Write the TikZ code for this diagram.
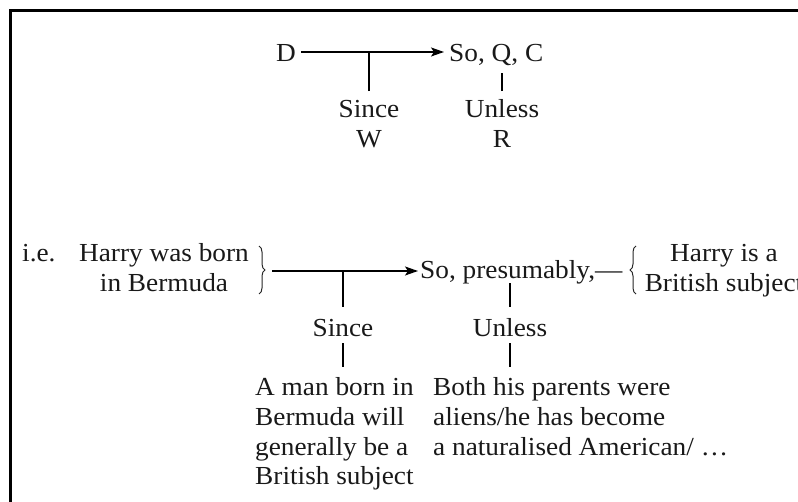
\documentclass[tikz,border=0pt]{standalone}
\usepackage{fontspec}
\setmainfont{Liberation Serif}[FakeStretch=1.05]
\usetikzlibrary{arrows.meta,decorations.pathreplacing}
\newcommand{\mlines}[2][c]{\begin{tabular}[t]{@{}#1@{}}#2\end{tabular}}
\begin{document}
\begin{tikzpicture}[x=1pt,y=1pt,
  txt/.style={font=\fontsize{26}{29.5}\selectfont, text=black!90},
  lbl/.style={txt, inner xsep=5pt, inner ysep=0pt, text height=20pt, text depth=0pt},
  ml/.style={txt, inner xsep=0pt, inner ysep=6pt},
  conn/.style={line width=1.5pt, draw=black},
  arr/.style={conn, -{Stealth[length=13pt,width=9pt,inset=3pt]}},
  brc/.style={line width=1pt, draw=black!85, decorate, decoration={brace, amplitude=6pt, aspect=0.5}},
  frame/.style={line width=3pt}]
\useasboundingbox (0,0) rectangle (798,-502);
\clip (0,0) rectangle (798,-502);
\draw[frame] (10,-530) -- (10,-11) -- (830,-11);

% top diagram
\node[lbl, anchor=base] (D) at (286,-62) {D};
\node[lbl, anchor=base west, inner ysep=11pt] (SQC) at (444,-62) {So, Q, C};
\node[ml, anchor=base] (S1) at (369,-118) {\mlines{Since\\W}};
\node[ml, anchor=base] (U1) at (502,-118) {\mlines{Unless\\R}};
\draw[arr] (D.east) -- (SQC.west);
\draw[conn] (S1.north) -- (S1.north |- D.east);
\draw[conn] (U1.north) -- (U1.north |- SQC.south);

% bottom diagram
\node[txt, anchor=base west, inner sep=0pt] (ie) at (22,-262) {i.e.};
\node[ml, anchor=base] (HB) at (164,-262) {\mlines{Harry was born\\in Bermuda}};
\draw[brc] (259,-246) -- (259,-294);
\coordinate (lbt) at (272,-271);
\node[lbl, anchor=base west, inner xsep=2pt, inner ysep=4pt, text height=16pt] (SP) at (418,-279) {So, presumably,—};
\draw[arr] (lbt) -- (SP.west);
\draw[brc] (636,-294) -- (636,-246);
\node[ml, anchor=base] (HS) at (724,-262) {\mlines{Harry is a\\British subject}};
\node[lbl, anchor=base, text height=24pt, inner ysep=6pt] (S2) at (343,-337) {Since};
\node[lbl, anchor=base, text height=24pt, inner ysep=6pt] (U2) at (510,-337) {Unless};
\draw[conn] (S2.north) -- (S2.north |- SP.west);
\draw[conn] (U2.north) -- (U2.north |- SP.south);
\node[ml, anchor=base west, inner ysep=8pt] (P1) at (255,-396) {\mlines[l]{A man born in\\Bermuda will\\generally be a\\British subject}};
\node[ml, anchor=base west, inner ysep=8pt] (P2) at (433,-396) {\mlines[l]{Both his parents were\\aliens/he has become\\a naturalised American/ …}};
\draw[conn] (S2.south) -- (S2.south |- P1.north);
\draw[conn] (U2.south) -- (U2.south |- P2.north);
\end{tikzpicture}
\end{document}
